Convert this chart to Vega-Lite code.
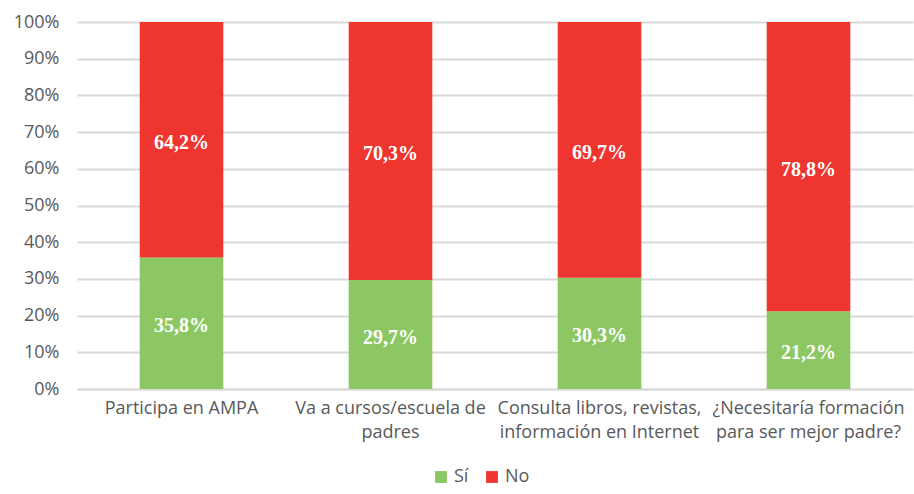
{
  "$schema": "https://vega.github.io/schema/vega-lite/v6.json",
  "autosize": {"type": "none"},
  "width": 836,
  "height": 367,
  "padding": {"left": 77, "top": 22, "right": 1, "bottom": 105},
  "background": "white",
  "config": {
    "locale": {"number": {"decimal": ",", "thousands": ".", "grouping": [3], "currency": ["", " €"]}},
    "view": {"stroke": null},
    "font": "Open Sans"
  },
  "data": {
    "values": [
      {"cat": "Participa en AMPA", "resp": "Sí", "ord": 1, "v": 0.358},
      {"cat": "Participa en AMPA", "resp": "No", "ord": 2, "v": 0.642},
      {"cat": "Va a cursos/escuela de|padres", "resp": "Sí", "ord": 1, "v": 0.297},
      {"cat": "Va a cursos/escuela de|padres", "resp": "No", "ord": 2, "v": 0.703},
      {"cat": "Consulta libros, revistas,|información en Internet", "resp": "Sí", "ord": 1, "v": 0.303},
      {"cat": "Consulta libros, revistas,|información en Internet", "resp": "No", "ord": 2, "v": 0.697},
      {"cat": "¿Necesitaría formación|para ser mejor padre?", "resp": "Sí", "ord": 1, "v": 0.212},
      {"cat": "¿Necesitaría formación|para ser mejor padre?", "resp": "No", "ord": 2, "v": 0.788}
    ]
  },
  "encoding": {
    "x": {
      "field": "cat", "type": "nominal", "sort": null, "title": null,
      "scale": {"paddingInner": 0.6, "paddingOuter": 0.3},
      "axis": {
        "labelExpr": "split(datum.label, '|')",
        "labelAngle": 0, "labelLimit": 0, "labelOverlap": false,
        "labelFont": "Open Sans",
        "labelFontSize": 18, "labelColor": "#595959", "labelPadding": 10,
        "labelLineHeight": 24,
        "ticks": false, "domainColor": "#d9d9d9", "domainWidth": 2
      }
    },
    "y": {
      "field": "v", "type": "quantitative", "stack": "zero", "title": null,
      "scale": {"domain": [0, 1]},
      "axis": {
        "format": ".0%", "values": [0, 0.1, 0.2, 0.3, 0.4, 0.5, 0.6, 0.7, 0.8, 0.9, 1],
        "labelFont": "Open Sans",
        "labelFontSize": 18, "labelColor": "#595959", "labelPadding": 18,
        "ticks": false, "domain": false,
        "gridColor": "#d9d9d9", "gridWidth": 2
      }
    },
    "order": {"field": "ord", "type": "quantitative"}
  },
  "layer": [
    {
      "mark": {"type": "bar"},
      "encoding": {
        "color": {
          "field": "resp", "type": "nominal", "title": null,
          "scale": {"domain": ["Sí", "No"], "range": ["#8CC763", "#EE3530"]},
          "legend": {
            "orient": "none", "legendX": 355, "legendY": 446,
            "direction": "horizontal",
            "symbolType": "square", "symbolSize": 140, "symbolStrokeWidth": 0,
            "labelFont": "Open Sans",
            "labelFontSize": 18, "labelColor": "#595959",
            "columnPadding": 14, "labelOffset": 4
          }
        }
      }
    },
    {
      "mark": {"type": "text", "color": "white", "font": "Liberation Serif", "fontWeight": "bold", "fontSize": 20, "baseline": "middle", "dy": 3},
      "encoding": {
        "y": {"field": "v", "type": "quantitative", "stack": "zero", "bandPosition": 0.5},
        "text": {"field": "v", "type": "quantitative", "format": ".1%"}
      }
    }
  ]
}
